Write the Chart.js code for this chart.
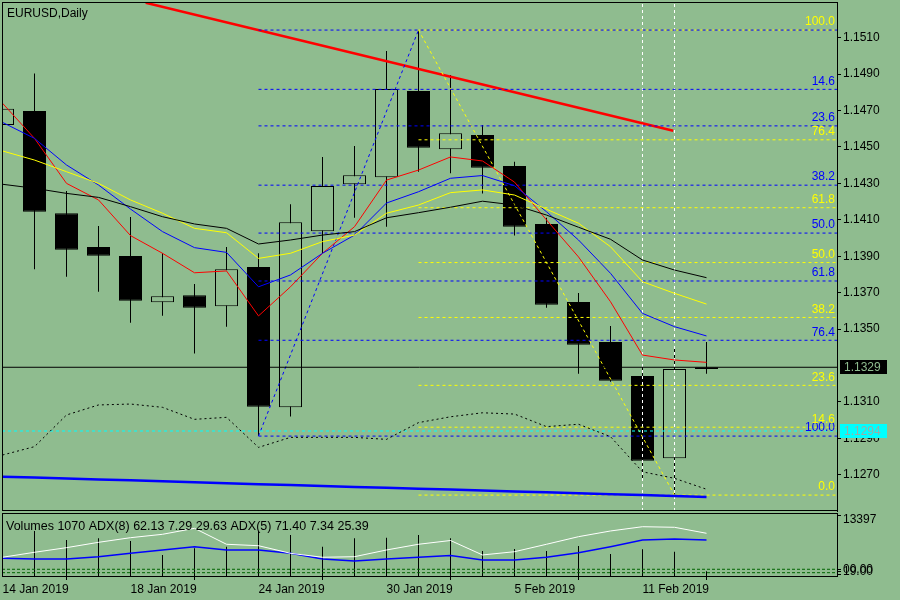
<!DOCTYPE html>
<html>
<head>
<meta charset="utf-8">
<script src="https://cdn.jsdelivr.net/npm/chart.js@4.4.1/dist/chart.umd.min.js"></script>
<style>
html, body { margin: 0; padding: 0; background: #8fbc8f; }
#wrap { position: relative; width: 900px; height: 600px; background: #8fbc8f; overflow: hidden; }
#main { position: absolute; left: 0; top: 0; }
#sub { position: absolute; left: 0; top: 512px; }
</style>
</head>
<body>
<div id="wrap">
  <canvas id="main" width="900" height="512"></canvas>
  <canvas id="sub" width="900" height="88"></canvas>
</div>
<script>
// daily bars, EURUSD
const dates = ['14 Jan 2019','15 Jan 2019','16 Jan 2019','17 Jan 2019','18 Jan 2019','21 Jan 2019','22 Jan 2019','23 Jan 2019','24 Jan 2019','25 Jan 2019','28 Jan 2019','29 Jan 2019','30 Jan 2019','31 Jan 2019','1 Feb 2019','4 Feb 2019','5 Feb 2019','6 Feb 2019','7 Feb 2019','8 Feb 2019','11 Feb 2019','12 Feb 2019','13 Feb 2019'];
const opens  = [1.1462,1.14697,1.14136,1.1395,1.13901,1.13647,1.13685,1.13625,1.13841,1.1307,1.14037,1.14295,1.14333,1.14807,1.14487,1.14566,1.14395,1.14077,1.13648,1.13429,1.13242,1.1279,1.1328];
const highs  = [1.1476,1.14904,1.14258,1.14066,1.14115,1.13916,1.13747,1.1395,1.13916,1.14185,1.14445,1.14505,1.15027,1.15142,1.14895,1.14621,1.14419,1.14111,1.13698,1.13517,1.13308,1.13407,1.13429];
const lows   = [1.1455,1.13828,1.13787,1.13705,1.13535,1.13573,1.13365,1.13513,1.12912,1.13019,1.13916,1.14111,1.14062,1.14364,1.14355,1.14245,1.14013,1.13617,1.13255,1.1321,1.12678,1.12588,1.13255];
const closes = [1.1471,1.14144,1.13936,1.13903,1.13656,1.1368,1.13617,1.13828,1.13073,1.14086,1.14286,1.14344,1.14818,1.14496,1.14575,1.14386,1.14062,1.13634,1.13414,1.13216,1.12777,1.1328,1.1329];

// moving averages / bands
const maRed    = [1.1474,1.14547,1.1430,1.14209,1.14013,1.13916,1.13809,1.13819,1.13572,1.13732,1.13916,1.14062,1.14318,1.14373,1.14445,1.14423,1.14307,1.14099,1.13896,1.1365,1.13357,1.1333,1.13317];
const maBlue   = [1.14635,1.14547,1.14401,1.14291,1.14159,1.14035,1.13947,1.13921,1.13732,1.13797,1.13916,1.14016,1.14192,1.14254,1.14328,1.14343,1.14287,1.14144,1.13989,1.13806,1.13586,1.13513,1.13462];
const maYellow = [1.14478,1.14428,1.14364,1.1430,1.14209,1.14136,1.14053,1.14029,1.13888,1.13916,1.1398,1.14016,1.14136,1.14181,1.14249,1.14264,1.14236,1.14158,1.14081,1.13952,1.1376,1.13696,1.13637];
const maBlack  = [1.14295,1.14273,1.14245,1.14223,1.14172,1.14117,1.14077,1.14053,1.13967,1.13989,1.14016,1.14035,1.14111,1.14139,1.14169,1.14202,1.14181,1.14126,1.14059,1.13993,1.13879,1.13824,1.13782];
const bandLower = [1.12808,1.12854,1.13028,1.13083,1.13088,1.1307,1.13004,1.13015,1.1285,1.12905,1.12905,1.12905,1.12894,1.12986,1.13018,1.1304,1.13033,1.12964,1.12977,1.12909,1.12716,1.1268,1.1262];
const maSlow   = [1.12689,1.12684,1.12679,1.12674,1.12669,1.12664,1.12658,1.12653,1.12648,1.12643,1.12638,1.12633,1.12628,1.12623,1.12618,1.12613,1.12608,1.12603,1.12598,1.12593,1.12588,1.12583,1.12578];

// sub window
const volumes = [7400,9880,7910,8280,7690,4610,6080,6440,9880,9000,6440,8280,8410,9000,8280,5490,5930,5490,6590,4830,5860,5340,1070];
const adxFast = [38.2,45.1,51.5,58.9,65.3,70.0,78.3,56.2,54.2,43.7,38.2,39.0,48.3,56.2,61.4,41.4,45.9,56.2,66.7,74.6,80.5,79.7,71.4];
const adxSlow = [36.8,35.8,35.8,39.0,43.7,48.3,52.9,48.3,48.3,43.7,35.8,33.0,35.8,38.2,40.7,34.5,34.5,38.2,44.6,52.9,62.1,63.5,62.1];
const adxLevels = [21.6, 16.9];

// axes
const priceTicks = [1.1270,1.1290,1.1310,1.1350,1.1370,1.1390,1.1410,1.1430,1.1450,1.1470,1.1490,1.1510];
const dateTicks = [0,4,8,12,16,20];

// objects
const fibRatios = [0,0.146,0.236,0.382,0.5,0.618,0.764,1];
const fibLabels = ['0.0','14.6','23.6','38.2','50.0','61.8','76.4','100.0'];
const blueFibStart = 8, yellowFibStart = 13;
const trendX = [4.475, 20.96];
const trendY = [1.15292, 1.14589];
const bidPrice = 1.1329;
const alertPrice = 1.1294;
const markerBars = [20, 21];

const BG = '#8fbc8f';
const FONT = '"Liberation Sans", Arial, sans-serif';
Chart.defaults.font.family = FONT;
Chart.defaults.font.size = 12;
Chart.defaults.color = '#000';

const xMin = -0.015625, xMax = 26.078125;
const yMin = 1.125006, yMax = 1.152906;

const pts = arr => arr.map((v, i) => ({ x: i, y: v }));
const line = (data, color, extra) => Object.assign({
  type: 'line', data, borderColor: color, borderWidth: 1, pointRadius: 0,
  tension: 0, fill: false, clip: 0, order: 1
}, extra || {});

const blueHigh = highs[13], blueLow = lows[8];
const yelHigh = highs[13], yelLow = lows[21];
const blueLevels = fibRatios.map(r => blueHigh - r * (blueHigh - blueLow));
const yelLevels = fibRatios.map(r => yelLow + r * (yelHigh - yelLow));

const mainSets = [];
mainSets.push({
  type: 'bar', data: dates.map((d, i) => ({ x: i, y: [lows[i], highs[i]] })),
  backgroundColor: '#000', barThickness: 1, grouped: false, inflateAmount: 0, order: 20
});
mainSets.push({
  type: 'bar', data: dates.map((d, i) => ({ x: i, y: [opens[i], closes[i]] })),
  backgroundColor: dates.map((d, i) => closes[i] >= opens[i] ? BG : '#000'),
  borderColor: '#000', borderWidth: 1, borderSkipped: false,
  barThickness: 23, grouped: false, inflateAmount: 0, order: 19
});
mainSets.push(line(pts(maSlow), '#0000ff', { borderWidth: 2.5 }));
mainSets.push(line(pts(bandLower), '#000', { borderDash: [2, 3] }));
mainSets.push(line(pts(maBlack), '#000'));
mainSets.push(line(pts(maYellow), '#ffff00'));
mainSets.push(line(pts(maBlue), '#0000ff'));
mainSets.push(line(pts(maRed), '#ff0000'));
mainSets.push(line([{ x: xMin, y: bidPrice }, { x: xMax, y: bidPrice }], '#000'));
mainSets.push(line([{ x: xMin, y: alertPrice }, { x: xMax, y: alertPrice }], '#00ffff', { borderDash: [3, 3] }));
blueLevels.forEach(p => mainSets.push(line([{ x: blueFibStart, y: p }, { x: xMax, y: p }], '#0000ff', { borderDash: [3, 3] })));
yelLevels.forEach(p => mainSets.push(line([{ x: yellowFibStart, y: p }, { x: xMax, y: p }], '#ffff00', { borderDash: [3, 3] })));
mainSets.push(line([{ x: blueFibStart, y: blueLow }, { x: 13, y: blueHigh }], '#0000ff', { borderDash: [3, 3] }));
mainSets.push(line([{ x: 13, y: yelHigh }, { x: 21, y: yelLow }], '#ffff00', { borderDash: [3, 3] }));
mainSets.push(line([{ x: trendX[0], y: trendY[0] }, { x: trendX[1], y: trendY[1] }], '#ff0000', { borderWidth: 2.5 }));
markerBars.forEach(b => mainSets.push(line([{ x: b, y: yMin }, { x: b, y: yMax }], '#ffffff', { borderDash: [3, 3] })));

const mainDecor = {
  id: 'mainDecor',
  afterDraw(chart) {
    const { ctx, chartArea: a } = chart;
    const y = chart.scales.y;
    ctx.save();
    ctx.strokeStyle = '#000';
    ctx.lineWidth = 1;
    ctx.strokeRect(a.left + 0.5, a.top - 0.5, a.right - a.left, a.bottom - a.top);

    ctx.font = '12px ' + FONT;
    ctx.textAlign = 'right';
    ctx.textBaseline = 'bottom';
    // blue 0.0 sits under the yellow 100.0 label, so it is left out
    ctx.fillStyle = '#0000ff';
    blueLevels.forEach((p, i) => { if (i > 0) ctx.fillText(fibLabels[i], a.right - 2, y.getPixelForValue(p) - 2); });
    ctx.fillStyle = '#ffff00';
    yelLevels.forEach((p, i) => ctx.fillText(fibLabels[i], a.right - 2, y.getPixelForValue(p) - 2));

    ctx.textAlign = 'left';
    ctx.textBaseline = 'alphabetic';
    ctx.fillStyle = '#000';
    ctx.fillText('EURUSD,Daily', 7, 17);

    const box = (val, fill, txt) => {
      const py = Math.round(y.getPixelForValue(val));
      ctx.fillStyle = fill;
      ctx.fillRect(840, py - 7, 47, 14);
      ctx.fillStyle = txt;
      ctx.textBaseline = 'middle';
      ctx.fillText(val.toFixed(4), 844, py + 0.5);
    };
    box(bidPrice, '#000', BG);
    box(alertPrice, '#00ffff', '#9aaea6');
    ctx.restore();
  }
};

new Chart(document.getElementById('main'), {
  type: 'bar',
  data: { datasets: mainSets },
  options: {
    responsive: false, animation: false, devicePixelRatio: 1, events: [],
    layout: { padding: { left: 2, top: 3, right: 0, bottom: 1 } },
    plugins: { legend: { display: false }, tooltip: { enabled: false } },
    scales: {
      x: { type: 'linear', min: xMin, max: xMax, display: false, offset: false },
      y: {
        type: 'linear', position: 'right', min: yMin, max: yMax,
        afterBuildTicks: s => { s.ticks = priceTicks.map(v => ({ value: v })); },
        afterFit: s => { s.width = 63; s.paddingTop = 0; s.paddingBottom = 0; },
        grid: { drawOnChartArea: false, drawTicks: true, tickLength: 4, color: '#000' },
        border: { display: true, color: '#000' },
        ticks: { autoSkip: false, padding: 2, color: '#000', callback: v => v.toFixed(4) }
      }
    }
  },
  plugins: [mainDecor]
});

// sub window: volumes + ADX
const subSets = [];
subSets.push({
  type: 'bar', data: pts(volumes), yAxisID: 'yv',
  backgroundColor: '#000', barThickness: 1, grouped: false, inflateAmount: 0, order: 20
});
adxLevels.forEach(v => subSets.push(line([{ x: xMin, y: v }, { x: xMax, y: v }], '#006400', { yAxisID: 'ya', borderDash: [3, 2] })));
subSets.push(line(pts(adxFast), '#ffffff', { yAxisID: 'ya' }));
subSets.push(line(pts(adxSlow), '#0000ff', { yAxisID: 'ya', borderWidth: 1.5 }));

const subDecor = {
  id: 'subDecor',
  afterDraw(chart) {
    const { ctx } = chart;
    ctx.save();
    ctx.strokeStyle = '#000';
    ctx.lineWidth = 1;
    ctx.strokeRect(2.5, 1.5, 835, 63);
    ctx.font = '12.5px ' + FONT;
    ctx.fillStyle = '#000';
    ctx.textAlign = 'left';
    ctx.textBaseline = 'alphabetic';
    ctx.fillText('Volumes 1070 ADX(8) 62.13 7.29 29.63 ADX(5) 71.40 7.34 25.39', 6, 18);
    ctx.font = '12px ' + FONT;
    ctx.textBaseline = 'middle';
    ctx.fillText(String(13397), 843, 8);
    ctx.fillText('00.00', 843, 57.5);
    ctx.fillText('19.00', 843, 59.5);
    ctx.beginPath();
    [3.5, 57.5, 59.5, 62.5].forEach(t => { ctx.moveTo(837, t); ctx.lineTo(841, t); });
    ctx.stroke();
    ctx.restore();
  }
};

new Chart(document.getElementById('sub'), {
  type: 'bar',
  data: { datasets: subSets },
  options: {
    responsive: false, animation: false, devicePixelRatio: 1, events: [],
    layout: { padding: { left: 2, top: 3, right: 63, bottom: 0 } },
    plugins: { legend: { display: false }, tooltip: { enabled: false } },
    scales: {
      x: {
        type: 'linear', min: xMin, max: xMax, position: 'bottom', offset: false,
        afterBuildTicks: s => { s.ticks = dateTicks.map(v => ({ value: v })); },
        afterFit: s => { s.height = 24; s.paddingLeft = 0; s.paddingRight = 0; },
        grid: { drawOnChartArea: false, drawTicks: true, tickLength: 4, color: '#000' },
        border: { display: true, color: '#000' },
        ticks: { align: 'start', autoSkip: false, maxRotation: 0, padding: 2, color: '#000', callback: v => dates[v] }
      },
      yv: { type: 'linear', display: false, min: 0, max: 13397 },
      ya: { type: 'linear', display: false, min: 12.3, max: 96.7 }
    }
  },
  plugins: [subDecor]
});
</script>
</body>
</html>
